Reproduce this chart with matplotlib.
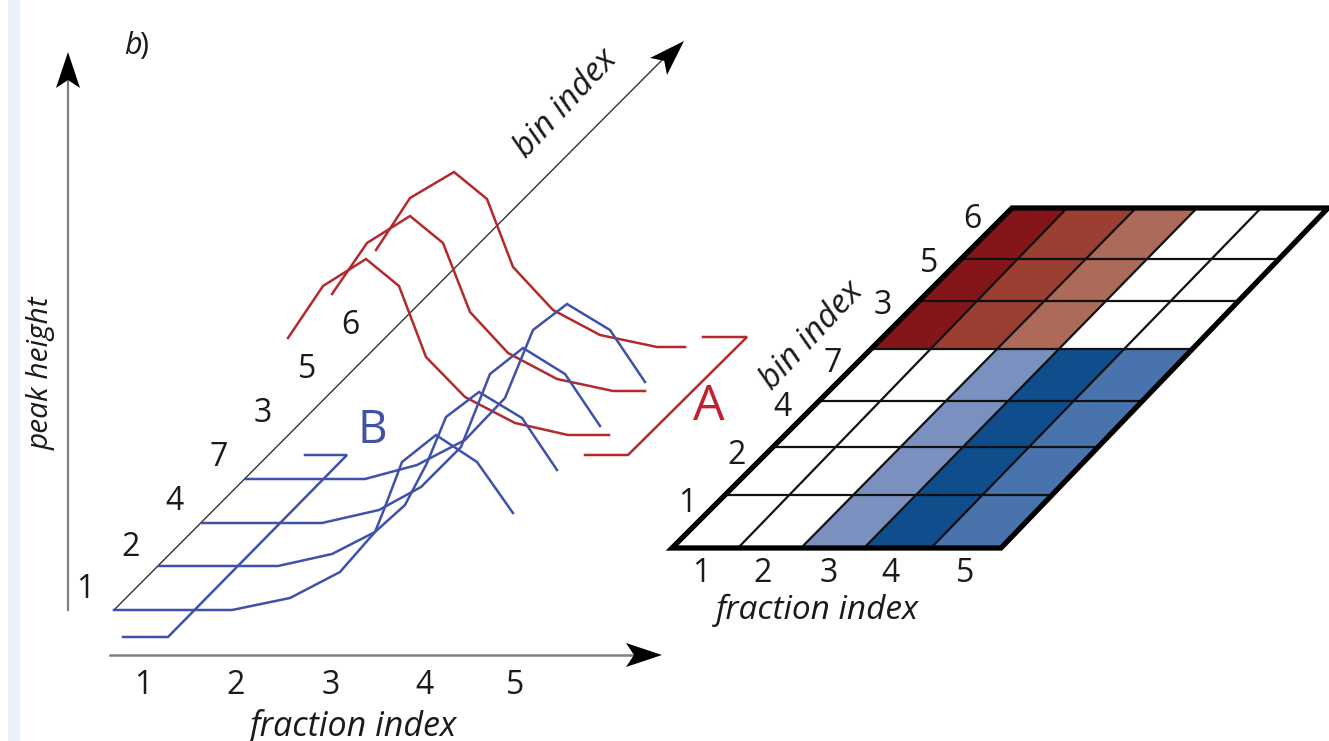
import numpy as np
import matplotlib
matplotlib.use("Agg")
import matplotlib.pyplot as plt
from matplotlib.patches import Polygon, Rectangle

plt.rcParams['font.family'] = ['Open Sans', 'DejaVu Sans']

# curves of the sketch, picture coordinates (x, y)
red_bin6 = [(376, 250), (410, 198), (454, 172), (487, 199), (513, 267), (553, 310), (600, 335), (657, 347), (685, 347)]
red_bin5 = [(332, 294), (367, 243), (410, 216), (443, 243), (470, 312), (508, 353), (557, 379), (613, 391), (645, 391)]
red_bin3 = [(288, 338), (323, 286), (366, 259), (399, 286), (426, 357), (465, 397), (515, 423), (568, 435), (609, 435)]

blue_bin7 = [(246, 479), (365, 479), (417, 465), (465, 440), (505, 398), (533, 330), (567, 304), (610, 330), (645, 382)]
blue_bin4 = [(202, 523), (322, 523), (379, 510), (421, 487), (461, 447), (490, 374), (523, 348), (565, 374), (600, 426)]
blue_bin2 = [(159, 566), (278, 566), (332, 554), (375, 532), (405, 505), (427, 463), (446, 417), (479, 392), (522, 418), (557, 470)]
blue_bin1 = [(114, 610), (232, 610), (290, 598), (340, 572), (375, 532), (385, 507), (402, 462), (436, 435), (477, 462), (513, 513)]

bracket_a = [(585, 455), (628, 455), (747, 337), (703, 337)]
bracket_b = [(123, 637), (168, 637), (347, 455), (305, 455)]

# heat map grid on the right
row_y = [548, 495, 447, 401, 349, 301, 259, 208]
col_bottom = [672, 738, 801, 864, 931, 1001]
col_top = [1012, 1067, 1136, 1197, 1261, 1328]
cell_colors = {0: "white", 1: "#7a90bf", 2: "#0f4d8c", 3: "#4873ad", 4: "#84161a", 5: "#9a3f32", 6: "#ae6a58"}
cells = [
    [0, 0, 1, 2, 3],
    [0, 0, 1, 2, 3],
    [0, 0, 1, 2, 3],
    [0, 0, 1, 2, 3],
    [4, 5, 6, 0, 0],
    [4, 5, 6, 0, 0],
    [4, 5, 6, 0, 0],
]

left_bins = ["1", "2", "4", "7", "3", "5", "6"]
left_bin_x = [85, 131, 175, 219, 263, 307, 350]
left_bin_y = [590, 547, 502, 458, 413, 370, 326]
left_frac = ["1", "2", "3", "4", "5"]
left_frac_x = [143, 236, 331, 424, 515]
right_bin_x = [687, 737, 782, 833, 883, 929, 972]
right_bin_y = [503, 455, 408, 363, 306, 263, 220]
right_frac_x = [701, 763, 829, 891, 965]

RED = "#b22a2e"
BLUE = "#3f51a8"
TEXT = "#1a1a1a"
FS = 23


def arrow_head(ax, tip, angle, length=36, width=24, notch=8):
    # black head with a notched back, angle in picture coordinates
    d = np.array([np.cos(angle), np.sin(angle)])
    n = np.array([-d[1], d[0]])
    tip = np.array(tip, dtype=float)
    pts = [tip, tip - d * length + n * width / 2, tip - d * (length - notch), tip - d * length - n * width / 2]
    ax.add_patch(Polygon(pts, closed=True, fc="black", ec="none", zorder=5))


def cell_x(col, y):
    # column edges run straight from the bottom row to the top row
    f = (row_y[0] - y) / (row_y[0] - row_y[-1])
    return col_bottom[col] + f * (col_top[col] - col_bottom[col])


fig = plt.figure(figsize=(13.29, 7.41), dpi=100)
ax = fig.add_axes([0, 0, 1, 1])
ax.set_xlim(0, 1329)
ax.set_ylim(741, 0)
ax.axis("off")

# pale strip on the left edge of the page
ax.add_patch(Rectangle((8, 0), 12, 741, fc="#eaf0f8", ec="none"))

# axes of the sketch
ax.plot([68, 68], [610, 75], color="#808080", lw=1.6)
ax.plot([110, 640], [655, 655], color="#808080", lw=1.8)
ax.plot([114, 670], [610, 52], color="#333333", lw=1.0)
arrow_head(ax, (68, 52), -np.pi / 2)
arrow_head(ax, (662, 655), 0)
arrow_head(ax, (684, 41), -np.pi / 4)

for curve in [red_bin6, red_bin5, red_bin3, bracket_a]:
    xs, ys = zip(*curve)
    ax.plot(xs, ys, color=RED, lw=1.8, solid_joinstyle="miter", zorder=3)
for curve in [blue_bin7, blue_bin4, blue_bin2, blue_bin1, bracket_b]:
    xs, ys = zip(*curve)
    ax.plot(xs, ys, color=BLUE, lw=1.8, solid_joinstyle="miter", zorder=3)

# heat map cells
for r, row in enumerate(cells):
    y0, y1 = row_y[r], row_y[r + 1]
    for c, code in enumerate(row):
        pts = [(cell_x(c, y0), y0), (cell_x(c + 1, y0), y0), (cell_x(c + 1, y1), y1), (cell_x(c, y1), y1)]
        ax.add_patch(Polygon(pts, closed=True, fc=cell_colors[code], ec="none", zorder=2))

# inner grid lines, then the heavy outline
for y in row_y[1:-1]:
    ax.plot([cell_x(0, y), cell_x(5, y)], [y, y], color="#111111", lw=1.6, zorder=3)
for c in range(1, 5):
    ax.plot([cell_x(c, row_y[0]), cell_x(c, row_y[-1])], [row_y[0], row_y[-1]], color="#111111", lw=1.6, zorder=3)
outline = [(col_bottom[0], row_y[0]), (col_bottom[5], row_y[0]), (col_top[5], row_y[-1]), (col_top[0], row_y[-1])]
ax.add_patch(Polygon(outline, closed=True, fc="none", ec="black", lw=3.8, joinstyle="miter", zorder=4))

# labels of the sketch
for lab, x, y in zip(left_bins, left_bin_x, left_bin_y):
    ax.text(x, y, lab, fontsize=FS, color=TEXT, ha="center", va="center")
for lab, x in zip(left_frac, left_frac_x):
    ax.text(x, 686, lab, fontsize=FS, color=TEXT, ha="center", va="center")
ax.text(353, 726, "fraction index", fontsize=24.5, style="italic", color=TEXT, ha="center", va="center")
ax.text(41, 373, "peak height", fontsize=21.5, style="italic", color=TEXT, ha="center", va="center", rotation=90)
ax.text(566, 104, "bin index", fontsize=24, style="italic", color=TEXT, ha="center", va="center", rotation=47,
        rotation_mode="anchor")
ax.text(124, 46, "b", fontsize=22, style="italic", color=TEXT, ha="left", va="center")
ax.text(139, 46, ")", fontsize=22, color=TEXT, ha="left", va="center")
ax.text(709, 407, "A", fontsize=36, color="#c0202f", ha="center", va="center")
ax.text(372, 431, "B", fontsize=33, color=BLUE, ha="center", va="center")

# labels of the heat map
for lab, x, y in zip(left_bins, right_bin_x, right_bin_y):
    ax.text(x, y, lab, fontsize=FS, color=TEXT, ha="center", va="center")
for lab, x in zip(left_frac, right_frac_x):
    ax.text(x, 574, lab, fontsize=FS, color=TEXT, ha="center", va="center")
ax.text(817, 610, "fraction index", fontsize=24, style="italic", color=TEXT, ha="center", va="center")
ax.text(812, 336, "bin index", fontsize=24, style="italic", color=TEXT, ha="center", va="center", rotation=47,
        rotation_mode="anchor")

fig.savefig("out.png", dpi=100)
